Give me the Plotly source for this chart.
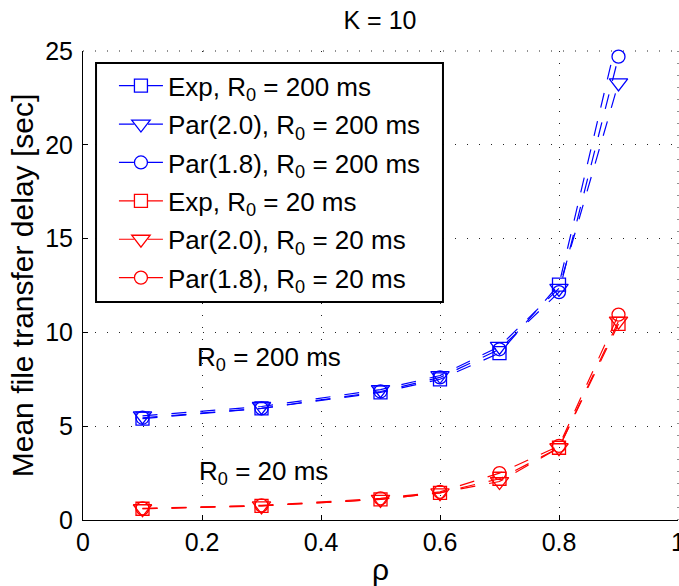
import plotly.graph_objects as go

# Utilisation levels (rho) and mean file transfer delays [sec], K = 10
rho = [0.1, 0.3, 0.5, 0.6, 0.7, 0.8, 0.9]

exp_200 = [5.4, 5.95, 6.8, 7.5, 8.9, 12.55, 26.0]
par20_200 = [5.55, 6.05, 6.95, 7.7, 9.25, 12.35, 23.3]
par18_200 = [5.45, 5.95, 6.85, 7.6, 9.1, 12.15, 24.7]

exp_20 = [0.6, 0.75, 1.1, 1.45, 2.2, 3.85, 10.45]
par20_20 = [0.6, 0.75, 1.1, 1.45, 2.05, 3.85, 10.6]
par18_20 = [0.62, 0.78, 1.15, 1.5, 2.5, 3.95, 10.95]

x_ticks = [0, 0.2, 0.4, 0.6, 0.8, 1]
y_ticks = [0, 5, 10, 15, 20, 25]

FONT = "Liberation Sans, Arial, sans-serif"
BLUE = "#0000ff"
RED = "#ff0000"
DASH = "15px,14px"

series = [
    ("Exp, R<sub>0</sub> = 200 ms", exp_200, BLUE, "square-open", 13),
    ("Par(2.0), R<sub>0</sub> = 200 ms", par20_200, BLUE, "triangle-down-open", 16),
    ("Par(1.8), R<sub>0</sub> = 200 ms", par18_200, BLUE, "circle-open", 13),
    ("Exp, R<sub>0</sub> = 20 ms", exp_20, RED, "square-open", 13),
    ("Par(2.0), R<sub>0</sub> = 20 ms", par20_20, RED, "triangle-down-open", 16),
    ("Par(1.8), R<sub>0</sub> = 20 ms", par18_20, RED, "circle-open", 13),
]

fig = go.Figure()
for i, (name, vals, color, symbol, size) in enumerate(series):
    fig.add_trace(go.Scatter(
        x=rho, y=vals, name=name, mode="lines+markers",
        legendgroup=f"g{i}",
        # the Exp/200 ms curve runs past the top of the axes at rho = 0.9
        cliponaxis=(i == 0),
        line=dict(color=color, width=1.2, dash=DASH),
        marker=dict(symbol=symbol, size=size, color=color,
                    line=dict(color=color, width=1.3)),
    ))

fig.add_annotation(x=0.188, y=8.6, xref="x", yref="y", xanchor="left", yanchor="middle",
                   text="R<sub>0</sub> = 200 ms", showarrow=False,
                   font=dict(size=26, color="black", family=FONT))
fig.add_annotation(x=0.192, y=2.55, xref="x", yref="y", xanchor="left", yanchor="middle",
                   text="R<sub>0</sub> = 20 ms", showarrow=False,
                   font=dict(size=26, color="black", family=FONT))

GRID_COLOR = "#222222"
GRID_DASH = "1px,11px"
grid = dict(showgrid=True, gridcolor=GRID_COLOR, gridwidth=1, griddash=GRID_DASH)

# dotted grid lines along the top and right edges of the axes
fig.add_shape(type="line", xref="paper", yref="paper", x0=0, x1=1, y0=1, y1=1,
              line=dict(color=GRID_COLOR, width=1, dash=GRID_DASH), layer="below")
fig.add_shape(type="line", xref="paper", yref="paper", x0=1, x1=1, y0=0, y1=1,
              line=dict(color=GRID_COLOR, width=1, dash=GRID_DASH), layer="below")

# framed white legend panel
fig.add_shape(type="rect", xref="paper", yref="paper",
              x0=0.0219, x1=0.605, y0=0.4648, y1=0.9744,
              fillcolor="white", line=dict(color="black", width=2), layer="above")

fig.update_layout(
    width=679, height=586,
    margin=dict(l=83, r=1, t=51, b=66, autoexpand=False),
    paper_bgcolor="white", plot_bgcolor="white",
    font=dict(family=FONT, size=25, color="black"),
    title=dict(text="K = 10", x=380 / 679, xanchor="center", y=1 - 20 / 586, yanchor="middle",
               font=dict(size=25)),
    showlegend=True,
    legend=dict(x=0.052, y=0.976, xanchor="left", yanchor="top",
                bgcolor="rgba(0,0,0,0)", borderwidth=0,
                font=dict(size=26), tracegroupgap=1.6, itemwidth=44),
    xaxis=dict(range=[0, 1], tickvals=x_ticks, ticktext=[f"{v:g}" for v in x_ticks],
               ticks="inside", ticklen=5, tickcolor="black", ticklabeloverflow="allow",
               showline=True, linecolor="black", linewidth=1, zeroline=False,
               automargin=False, title=dict(text="ρ", standoff=14), **grid),
    yaxis=dict(range=[0, 25], tickvals=y_ticks,
               ticks="inside", ticklen=5, tickcolor="black", ticklabelstandoff=4,
               showline=True, linecolor="black", linewidth=1, zeroline=False,
               automargin=False,
               title=dict(text="Mean file transfer delay [sec]", standoff=2), **grid),
)

fig.write_html("out.html")
